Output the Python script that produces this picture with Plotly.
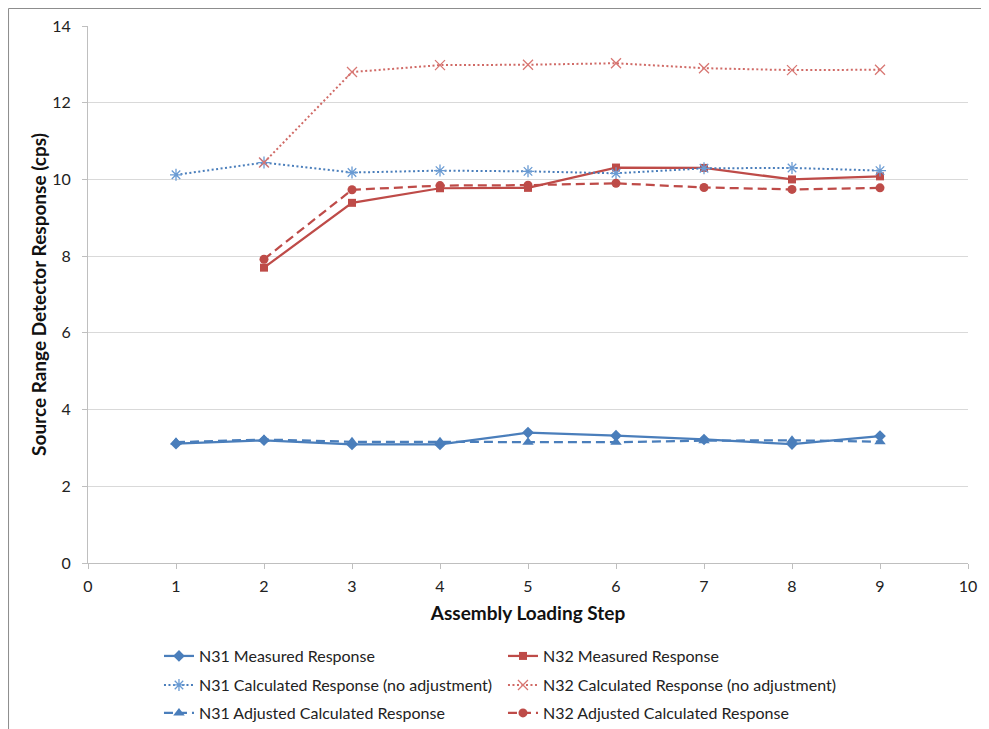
import plotly.graph_objects as go

steps_all = [1, 2, 3, 4, 5, 6, 7, 8, 9]
steps_n32 = [2, 3, 4, 5, 6, 7, 8, 9]

n31_measured = [3.11, 3.20, 3.09, 3.09, 3.40, 3.32, 3.22, 3.10, 3.31]
n31_calc = [10.12, 10.44, 10.18, 10.23, 10.21, 10.16, 10.29, 10.30, 10.23]
n31_adjusted = [3.15, 3.22, 3.16, 3.16, 3.15, 3.15, 3.19, 3.20, 3.16]

n32_measured = [7.70, 9.39, 9.77, 9.78, 10.31, 10.30, 10.00, 10.08]
n32_calc = [10.44, 12.80, 12.98, 12.99, 13.03, 12.90, 12.85, 12.86]
n32_adjusted = [7.92, 9.73, 9.84, 9.85, 9.90, 9.79, 9.74, 9.78]

BLUE = "#4A7EBB"
RED = "#BE4B48"
FONT = "Lato, 'Open Sans', sans-serif"

fig = go.Figure()

fig.add_trace(go.Scatter(
    x=steps_all, y=n31_measured, name="N31 Measured Response", mode="lines+markers",
    legend="legend",
    line=dict(color=BLUE, width=2.25),
    marker=dict(symbol="diamond", size=9, color=BLUE)))
fig.add_trace(go.Scatter(
    x=steps_n32, y=n32_measured, name="N32 Measured Response", mode="lines+markers",
    legend="legend",
    line=dict(color=RED, width=2.25),
    marker=dict(symbol="square", size=8, color=RED)))
fig.add_trace(go.Scatter(
    x=steps_all, y=n31_calc, name="N31 Calculated Response (no adjustment)", mode="lines+markers",
    legend="legend2",
    line=dict(color=BLUE, width=2, dash="2px,2.5px"),
    marker=dict(symbol="asterisk-open", size=10, color="#6A9BD3", line=dict(width=1.3, color="#6A9BD3"))))
fig.add_trace(go.Scatter(
    x=steps_n32, y=n32_calc, name="N32 Calculated Response (no adjustment)", mode="lines+markers",
    legend="legend2",
    line=dict(color="#D06A66", width=2, dash="2px,2.5px"),
    marker=dict(symbol="x-thin-open", size=10, color="#D87773", line=dict(width=1.3, color="#D87773"))))
fig.add_trace(go.Scatter(
    x=steps_all, y=n31_adjusted, name="N31 Adjusted Calculated Response", mode="lines+markers",
    legend="legend3",
    line=dict(color=BLUE, width=2.25, dash="9px,5px"),
    marker=dict(symbol="triangle-up", size=10, color=BLUE)))
fig.add_trace(go.Scatter(
    x=steps_n32, y=n32_adjusted, name="N32 Adjusted Calculated Response", mode="lines+markers",
    legend="legend3",
    line=dict(color=RED, width=2.25, dash="9px,5px"),
    marker=dict(symbol="circle", size=9, color=RED)))

legend_common = dict(
    orientation="h", entrywidth=299, entrywidthmode="pixels",
    xref="container", yref="container",
    x=0.1539, xanchor="left", yanchor="middle",
    font=dict(family=FONT, size=16, color="#222"),
    itemwidth=30, bgcolor="rgba(0,0,0,0)",
)

fig.update_layout(
    width=981, height=721,
    margin=dict(l=80, r=21, t=18, b=166, autoexpand=False),
    paper_bgcolor="white", plot_bgcolor="white",
    font=dict(family=FONT, size=16, color="#222"),
    showlegend=True,
    legend=dict(legend_common, y=0.1012),
    legend2=dict(legend_common, y=0.0610),
    legend3=dict(legend_common, y=0.0222),
    xaxis=dict(
        range=[0, 10], dtick=1, tick0=0, automargin=False,
        showgrid=False, zeroline=False,
        showline=True, linecolor="#BFBFBF", linewidth=1,
        ticks="outside", ticklen=5, tickcolor="#BFBFBF",
        ticklabelstandoff=4,
        tickfont=dict(family=FONT, size=16, color="#222"),
        title=dict(text="<b>Assembly Loading Step</b>", standoff=12,
                   font=dict(family=FONT, size=19, color="#111")),
    ),
    yaxis=dict(
        range=[0, 14], dtick=2, tick0=0, automargin=False,
        showgrid=True, gridcolor="#D9D9D9", gridwidth=1,
        zeroline=False,
        showline=True, linecolor="#BFBFBF", linewidth=1,
        ticks="outside", ticklen=5, tickcolor="#BFBFBF",
        ticklabelstandoff=8,
        tickfont=dict(family=FONT, size=16, color="#222"),
        title=dict(text="<b>Source Range Detector Response (cps)</b>", standoff=0,
                   font=dict(family=FONT, size=19, color="#111")),
    ),
    shapes=[
        dict(type="line", xref="paper", yref="paper",
             x0=-0.0903, x1=1.2, y0=1.0326, y1=1.0326,
             line=dict(color="#8C8C8C", width=1), layer="below"),
        dict(type="line", xref="paper", yref="paper",
             x0=-0.0903, x1=-0.0903, y0=-0.5, y1=1.0326,
             line=dict(color="#8C8C8C", width=1), layer="below"),
    ],
)

fig.write_html("out.html", config={"displayModeBar": False})
